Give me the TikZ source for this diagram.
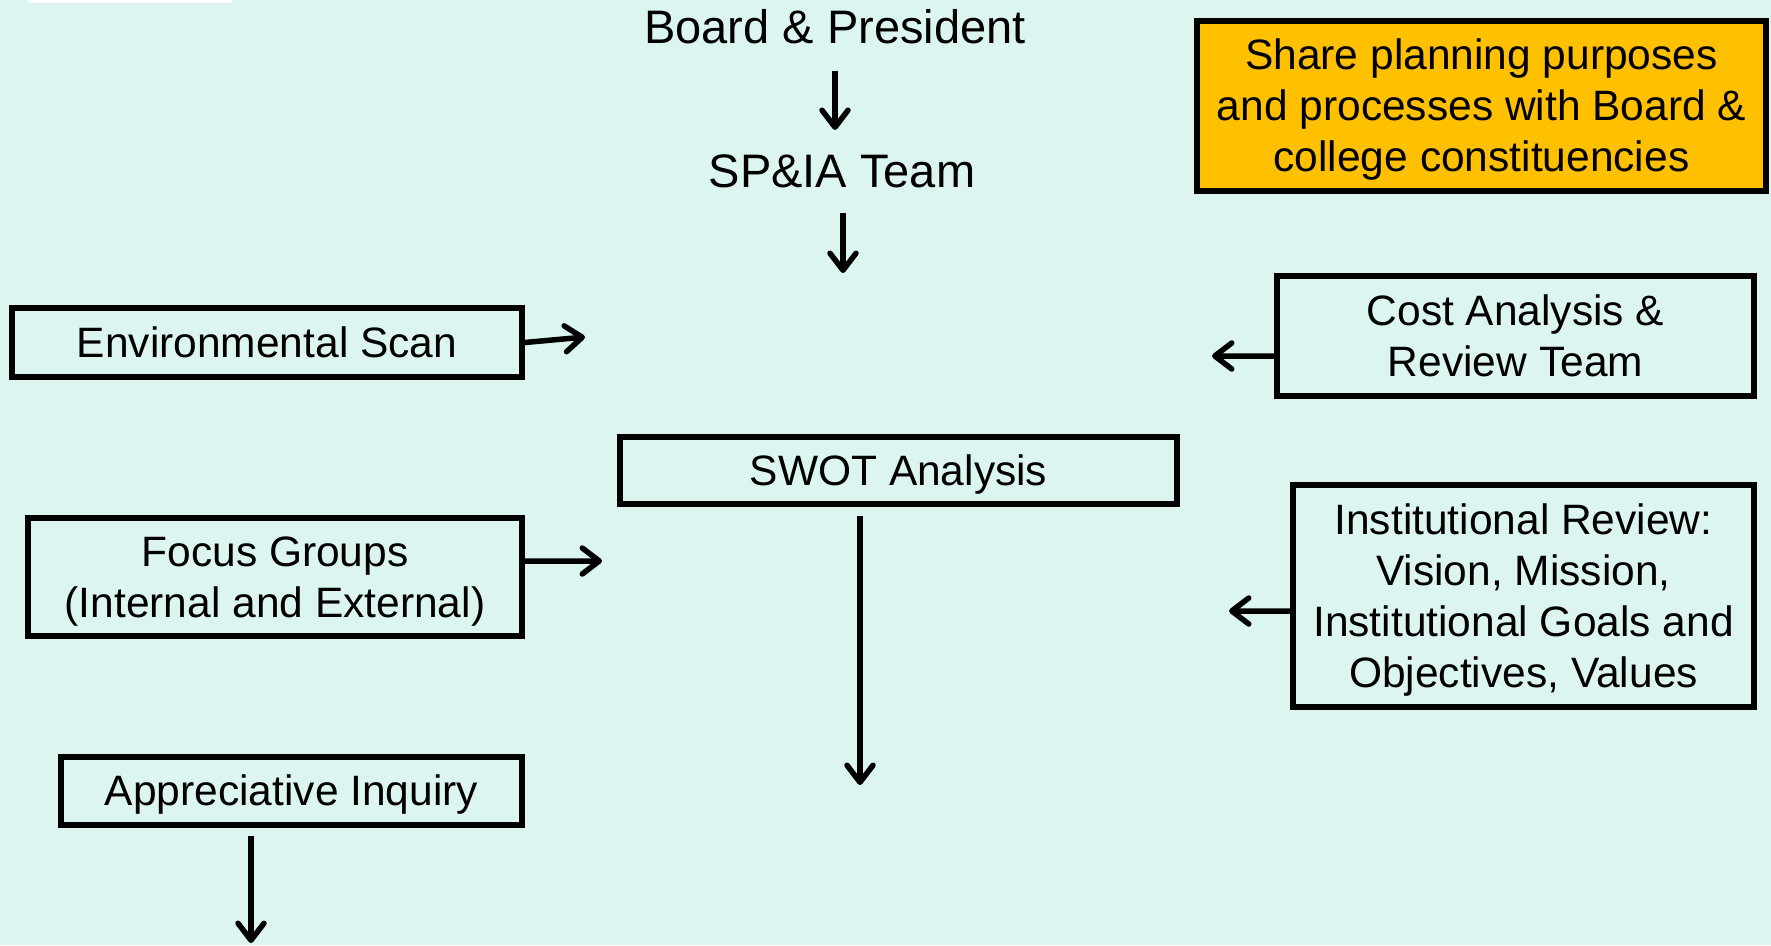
\documentclass[tikz,border=0pt]{standalone}
\usepackage{fontspec}
\setmainfont{Liberation Sans}
\usetikzlibrary{arrows.meta,shadows}
\definecolor{bg}{RGB}{221,245,241}
\definecolor{gold}{RGB}{255,192,0}
\newcommand\pstr{\rule[-0.184em]{0pt}{1.084em}}
\begin{document}
\begin{tikzpicture}[x=1bp,y=-1bp,
  box/.style={draw=black,fill=bg,line width=6bp,inner sep=0pt,align=center,
    font=\fontsize{42.5bp}{51bp}\selectfont,
    drop shadow={shadow xshift=1.5bp,shadow yshift=-2bp,fill=black!30,opacity=1}},
  ttl/.style={inner sep=0pt,anchor=base,font=\fontsize{47bp}{56bp}\selectfont},
  arr/.style={line width=5.5bp,-{Straight Barb[length=17bp,width=26bp,round]}}]
\fill[bg] (0,0) rectangle (1771,945);
\useasboundingbox (0,0) rectangle (1771,945);
\fill[white] (28,0) rectangle (232,3);

\node[ttl] (board) at (835,43) {Board \& President};
\node[ttl] (sp) at (842,187) {SP\&IA Team};

\node[box,fill=gold,minimum width=569bp,minimum height=170bp] (share) at (1481.5,106)
  {\pstr Share planning purposes\\\pstr and processes with Board \&\\\pstr college constituencies};
\node[box,minimum width=510bp,minimum height=69bp] (env) at (267,342.5) {\pstr Environmental Scan};
\node[box,minimum width=477bp,minimum height=120bp] (cost) at (1515.5,336) {\pstr Cost Analysis \&\\\pstr Review Team};
\node[box,minimum width=557bp,minimum height=67bp] (swot) at (898.5,470.5) {\pstr SWOT Analysis};
\node[box,minimum width=494bp,minimum height=118bp] (focus) at (275,577) {\pstr Focus Groups\\\pstr (Internal and External)};
\node[box,minimum width=461bp,minimum height=222bp] (inst) at (1523.5,596)
  {\pstr Institutional Review:\\\pstr Vision, Mission,\\\pstr Institutional Goals and\\\pstr Objectives, Values};
\node[box,minimum width=461bp,minimum height=68bp] (app) at (291.5,791) {\pstr Appreciative Inquiry};

\coordinate (a2e) at (843,273);
\coordinate (enve) at (585,337);
\coordinate (coste) at (1212,356);
\coordinate (focuse) at (602,561);
\coordinate (inste) at (1229,611);
\coordinate (swote) at (860,785);
\coordinate (appe) at (251,943);

\draw[arr,shorten <=27bp,shorten >=24bp] (board.south) -- (board.south |- sp.north);
\draw[arr,shorten <=25bp] (sp.south -| a2e) -- (a2e);
\draw[arr] (env.east) -- (enve);
\draw[arr] ([yshift=-20bp]cost.west) -- (coste);
\draw[arr] ([yshift=16bp]focus.east) -- (focuse);
\draw[arr] ([yshift=-15bp]inst.west) -- (inste);
\draw[arr,shorten <=9bp] (swot.south -| swote) -- (swote);
\draw[arr,shorten <=8bp] (app.south -| appe) -- (appe);
\end{tikzpicture}
\end{document}
